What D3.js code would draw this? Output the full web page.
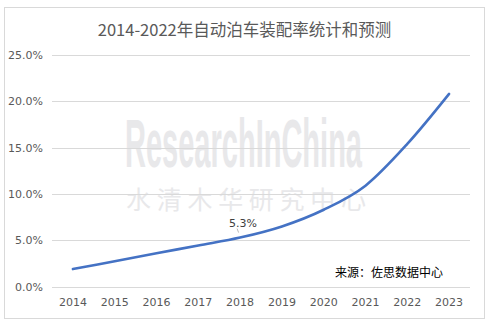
<!DOCTYPE html>
<html>
<head>
<meta charset="utf-8">
<script src="https://cdn.jsdelivr.net/npm/d3@7/dist/d3.min.js"></script>
<style>
  html, body { margin: 0; padding: 0; background: #fff; }
  svg { display: block; }
</style>
</head>
<body>
<svg id="chart" width="489" height="324"></svg>
<script>
// Automatic parking fitment rate, 2014-2023 (2023 forecast)
const years = ["2014", "2015", "2016", "2017", "2018", "2019", "2020", "2021", "2022", "2023"];
const rates = [0.019, 0.0275, 0.036, 0.0445, 0.053, 0.065, 0.083, 0.109, 0.154, 0.208];
const yTicks = [0, 0.05, 0.10, 0.15, 0.20, 0.25];
const labelledYear = "2018";
const titleText = "2014-2022年自动泊车装配率统计和预测";
const sourceText = "来源：佐思数据中心";

const W = 489, H = 324;
const plot = { left: 52, right: 470, top: 55, bottom: 286.7 };
const cjk = "'Noto Sans CJK SC', 'Noto Sans', sans-serif";
const grey = "#595959";

const svg = d3.select("#chart");

// outer frame
svg.append("rect")
  .attr("x", 4.5).attr("y", 7.5)
  .attr("width", 480).attr("height", 311)
  .attr("fill", "#fff").attr("stroke", "#d9d9d9");

const x = d3.scaleBand().domain(years).range([plot.left, plot.right]);
const y = d3.scaleLinear().domain([0, 0.25]).range([plot.bottom, plot.top]);
const cx = d => x(d) + x.bandwidth() / 2;

// watermark
const wm = svg.append("g").attr("fill", "#e8e8ea");
wm.append("text")
  .attr("x", 125).attr("y", 167)
  .attr("textLength", 237).attr("lengthAdjust", "spacingAndGlyphs")
  .attr("font-family", "'Liberation Sans Narrow', 'Liberation Sans', sans-serif")
  .attr("font-weight", "bold").attr("font-size", 68)
  .text("ResearchInChina");
wm.append("text")
  .attr("x", 126).attr("y", 209)
  .attr("textLength", 240).attr("lengthAdjust", "spacing")
  .attr("font-family", cjk).attr("font-weight", 400).attr("font-size", 25)
  .text("水清木华研究中心");

// horizontal gridlines
svg.append("g")
  .selectAll("line").data(yTicks).join("line")
  .attr("x1", plot.left).attr("x2", plot.right)
  .attr("y1", d => Math.round(y(d)) + 0.5).attr("y2", d => Math.round(y(d)) + 0.5)
  .attr("stroke", "#d9d9d9").attr("stroke-width", 1);

// y axis labels
const yAxis = d3.axisLeft(y).tickValues(yTicks).tickFormat(d3.format(".1%")).tickSize(0).tickPadding(0);
svg.append("g")
  .attr("transform", `translate(${plot.left - 9},0)`)
  .call(yAxis)
  .call(g => g.select(".domain").remove())
  .selectAll("text")
  .attr("fill", grey).attr("font-size", 11)
  .attr("font-family", "'DejaVu Sans', sans-serif");

// x axis labels
const xAxis = d3.axisBottom(x).tickSize(0).tickPadding(0);
svg.append("g")
  .attr("transform", `translate(0,${plot.bottom + 11})`)
  .call(xAxis)
  .call(g => g.select(".domain").remove())
  .selectAll("text")
  .attr("fill", grey).attr("font-size", 11)
  .attr("font-family", "'DejaVu Sans', sans-serif");

// series line, smoothed
const line = d3.line()
  .x((d, i) => cx(years[i]))
  .y(d => y(d))
  .curve(d3.curveCatmullRom.alpha(0));
svg.append("path")
  .datum(rates)
  .attr("d", line)
  .attr("fill", "none")
  .attr("stroke", "#4472c4")
  .attr("stroke-width", 2.6)
  .attr("stroke-linecap", "round");

// data label with leader line
const li = years.indexOf(labelledYear);
const lx = cx(labelledYear), ly = y(rates[li]);
svg.append("line")
  .attr("x1", lx - 1.5).attr("y1", ly - 5)
  .attr("x2", lx - 3).attr("y2", ly - 9)
  .attr("stroke", "#a6a6a6").attr("stroke-width", 0.8);
svg.append("text")
  .attr("x", lx + 3).attr("y", ly - 11)
  .attr("text-anchor", "middle")
  .attr("fill", "#404040").attr("font-size", 11)
  .attr("font-family", "'DejaVu Sans', sans-serif")
  .text(d3.format(".1%")(rates[li]));

// title
svg.append("text")
  .attr("x", 244.5).attr("y", 36)
  .attr("text-anchor", "middle")
  .attr("fill", grey).attr("font-size", 16.5)
  .attr("font-family", cjk)
  .text(titleText);

// source note
svg.append("text")
  .attr("x", 335).attr("y", 277)
  .attr("fill", "#000").attr("font-size", 12)
  .attr("font-family", cjk)
  .text(sourceText);
</script>
</body>
</html>
